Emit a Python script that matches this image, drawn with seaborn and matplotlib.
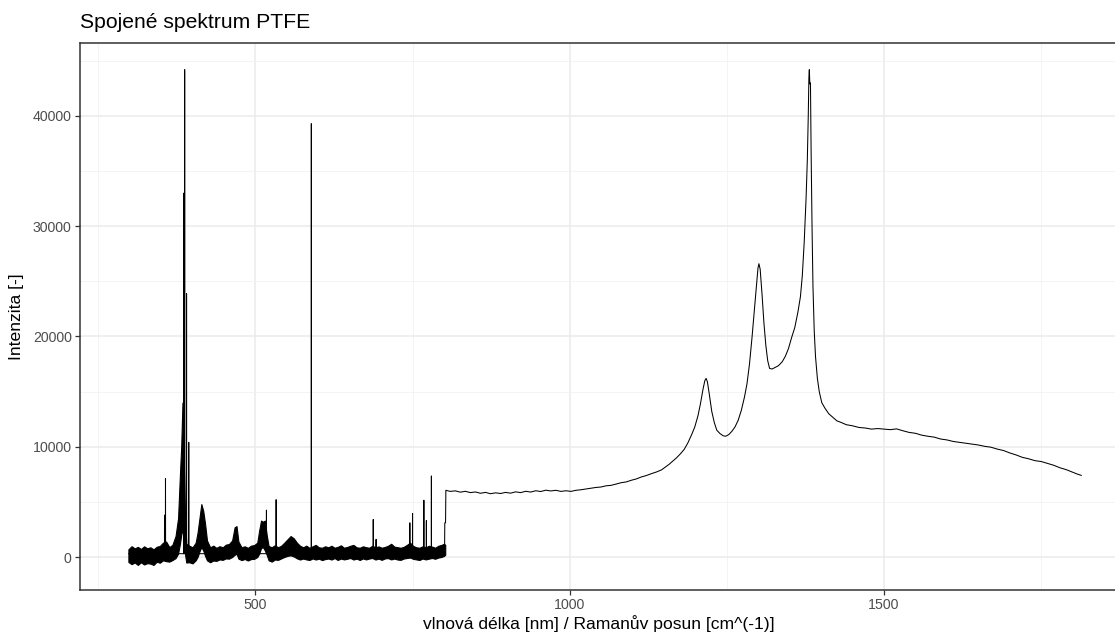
import numpy as np
import pandas as pd
import matplotlib
matplotlib.use("Agg")
import matplotlib.pyplot as plt
import seaborn as sns
from matplotlib.ticker import MultipleLocator

# ---------------- data ----------------
# noisy baseline envelope of the first (wavelength) part
env_x = [298, 303, 308, 313, 318, 323, 328, 333, 338, 343, 348, 353, 358, 363, 368,
         373, 377, 380, 382, 384, 386, 388, 390, 395, 400, 405, 408, 411, 414, 417,
         420, 423, 428, 433, 438, 443, 448, 453, 458, 463, 467, 470, 473, 478, 483,
         488, 493, 498, 503, 506, 509, 512, 515, 518, 521, 526, 531, 536, 541, 546,
         551, 556, 561, 566, 571, 576, 581, 586, 591, 596, 601, 606, 611, 616, 621,
         626, 631, 636, 641, 646, 651, 656, 661, 666, 671, 676, 681, 686, 691, 696,
         701, 706, 711, 716, 721, 726, 731, 736, 741, 746, 751, 756, 761, 766, 771,
         776, 781, 786, 791, 796, 800, 802]
env_lo = [-450, -650, -500, -720, -480, -680, -560, -600, -720, -430, -520, -300, -380, -420, -280,
          -100, 300, 1200, 2000, 2500, 2000, 300, -500, -480, -580, -300, 0, 500, 900, 600,
          100, -300, -480, -320, -350, -220, -260, -130, -150, 0, 200, 300, -150, -280, -180,
          -320, -190, -170, 0, 300, 800, 900, 600, 200, -300, -420, -230, -260, -130, 0,
          100, 150, 50, -120, -230, -140, -220, -270, -130, -230, -150, -280, -190, -140, -230,
          -100, -270, -140, -220, -160, -90, -230, -150, -270, -130, -220, -140, -90, -230, -150,
          -260, -130, -100, -220, -140, -230, -260, -140, -90, -50, -170, -220, -270, -140, -220,
          -150, -90, -160, -50, 0, 100, 200]
env_hi = [700, 980, 780, 920, 730, 970, 790, 880, 690, 930, 1000, 1300, 1400, 900, 1100,
          1900, 3500, 7500, 10000, 14000, 9000, 4000, 1200, 1020, 880, 1300, 2200, 3500, 4800, 4200,
          3000, 1500, 880, 1030, 830, 980, 880, 1120, 1180, 1500, 2700, 2800, 1400, 880, 970,
          830, 1030, 1080, 1300, 2400, 3300, 3200, 3300, 2000, 1000, 880, 1070, 880, 1020, 1300,
          1600, 1900, 1700, 1300, 1020, 880, 1030, 830, 970, 1100, 880, 840, 970, 880, 1020,
          840, 920, 1060, 840, 910, 1020, 1100, 880, 840, 970, 890, 840, 1020, 880, 960,
          840, 910, 1020, 1200, 940, 890, 840, 920, 1100, 1300, 1000, 880, 840, 970, 880,
          1020, 940, 840, 1020, 1100, 1200, 1100]

# sharp spikes in the first part: position and peak intensity
spike_x = [355.5, 357.0, 385.8, 387.5, 390.5, 394.0, 517.6, 533.0, 589.0, 687.5,
           692.0, 745.7, 750.0, 768.0, 772.0, 780.0]
spike_y = [3800, 7100, 33000, 44200, 23900, 10400, 4250, 5200, 39300, 3400,
           1600, 3100, 3950, 5150, 3300, 7350]
baseline = 300

# second (Raman) part of the spectrum, including the step
raman_x = [801.0, 801.3, 802.5, 803, 810, 818, 826, 834, 842, 850, 858, 866, 874, 882, 890,
           898, 906, 914, 922, 930, 938, 946, 954, 962, 970, 978, 986, 994, 1002, 1010,
           1018, 1026, 1034, 1042, 1050, 1058, 1066, 1074, 1082, 1090, 1098, 1106, 1114, 1122,
           1130, 1138, 1146, 1152, 1158, 1164, 1170, 1176, 1182, 1188, 1194, 1199, 1204, 1208,
           1212, 1215, 1217, 1219, 1222, 1226, 1230, 1234, 1239, 1244, 1248, 1253, 1258, 1263,
           1268, 1273, 1278, 1282, 1286, 1290, 1294, 1297, 1299.5, 1301, 1303, 1306, 1309, 1312,
           1315, 1318, 1322, 1327, 1332, 1338, 1343, 1348, 1353, 1358, 1363, 1367, 1370, 1373,
           1376, 1378, 1379.5, 1380.5, 1381.2, 1382, 1383, 1384, 1385.5, 1387, 1389, 1391, 1394,
           1397, 1401, 1406, 1412, 1418, 1425, 1432, 1440, 1450, 1460, 1470, 1480, 1490, 1500,
           1510, 1520, 1530, 1540, 1550, 1560, 1570, 1580, 1590, 1600, 1610, 1620, 1630, 1640,
           1650, 1660, 1670, 1680, 1690, 1700, 1710, 1720, 1730, 1740, 1750, 1760, 1770, 1780,
           1790, 1800, 1808, 1814]
raman_y = [800, 3100, 3100, 6050, 5950, 6000, 5880, 5960, 5840, 5900, 5780, 5860, 5740, 5820, 5760,
           5860, 5790, 5910, 5840, 5960, 5890, 6010, 5940, 6060, 5990, 6050, 5950, 6010, 5950, 6050,
           6100, 6170, 6240, 6310, 6350, 6460, 6500, 6620, 6740, 6810, 6960, 7080, 7260, 7390,
           7560, 7710, 7900, 8150, 8400, 8700, 9000, 9350, 9750, 10350, 11100, 11800, 12800, 13900,
           15200, 16000, 16200, 15900, 14800, 13200, 12200, 11500, 11200, 11000, 10950, 11100, 11400, 11800,
           12400, 13300, 14500, 15700, 17500, 19900, 22600, 24600, 26200, 26600, 26100, 23800, 21200, 19200,
           17800, 17100, 17050, 17200, 17350, 17700, 18200, 18900, 19900, 20800, 22200, 23600, 25500, 28500,
           32500, 36000, 40000, 43500, 44200, 42900, 43000, 37000, 30000, 24500, 20500, 18200, 16200,
           15000, 14000, 13500, 13000, 12700, 12350, 12200, 12000, 11900, 11750, 11700, 11600, 11650, 11600,
           11550, 11620, 11450, 11300, 11220, 11050, 10950, 10870, 10700, 10620, 10480, 10400, 10310, 10240,
           10160, 10040, 9960, 9790, 9660, 9440, 9260, 9040, 8910, 8740, 8660, 8490, 8320, 8090,
           7920, 7690, 7510, 7400]

title = "Spojené spektrum PTFE"
xlabel = "vlnová délka [nm] / Ramanův posun [cm^(-1)]"
ylabel = "Intenzita [-]"
x_major = [500, 1000, 1500]
y_major = [0, 10000, 20000, 30000, 40000]

# ---------------- build one line from the data ----------------
line_x, line_y = [298.0], [baseline]
for sx, sy in zip(spike_x, spike_y):
    line_x += [sx - 0.15, sx, sx + 0.15]
    line_y += [baseline, sy, baseline]
line_x += raman_x
line_y += raman_y
df = pd.DataFrame({"x": line_x, "y": line_y})

# ---------------- style ----------------
sns.set_style("white")
plt.rcParams["font.family"] = ["Liberation Sans", "DejaVu Sans"]

fig = plt.figure(figsize=(11.15, 6.33), dpi=100)
ax = fig.add_axes([80 / 1115, 1 - 590 / 633, 1 - 80 / 1115 + 0.002, (590 - 43) / 633])

ax.fill_between(env_x, env_lo, env_hi, color="black", lw=0.8, zorder=3)
sns.lineplot(data=df, x="x", y="y", sort=False, estimator=None, color="black",
             lw=0.75, ax=ax, zorder=4)

ax.set_xlim(221, 1871)
ax.set_ylim(-2993, 46620)
ax.xaxis.set_major_locator(plt.FixedLocator(x_major))
ax.yaxis.set_major_locator(plt.FixedLocator(y_major))
ax.xaxis.set_minor_locator(MultipleLocator(250))
ax.yaxis.set_minor_locator(MultipleLocator(5000))
ax.set_xticklabels([str(v) for v in x_major])
ax.set_yticklabels([str(v) for v in y_major])

ax.grid(which="major", color="#EBEBEB", lw=1.1, zorder=0)
ax.grid(which="minor", color="#F2F2F2", lw=0.6, zorder=0)
ax.set_axisbelow(True)
for sp in ax.spines.values():
    sp.set_color("#333333")
    sp.set_linewidth(1.1)

ax.tick_params(which="major", direction="out", length=3.5, width=0.9, color="#333333",
               labelsize=10.2, labelcolor="#4D4D4D", bottom=True, left=True, pad=2.5)
ax.tick_params(which="minor", length=0)

ax.set_xlabel(xlabel, fontsize=12.6, color="black", labelpad=2)
ax.set_ylabel(ylabel, fontsize=12.6, color="black", labelpad=6)
fig.text(80 / 1115, 1 - 22 / 633, title, fontsize=15.2, ha="left", va="center", color="black")

fig.savefig("out.png", dpi=100)
